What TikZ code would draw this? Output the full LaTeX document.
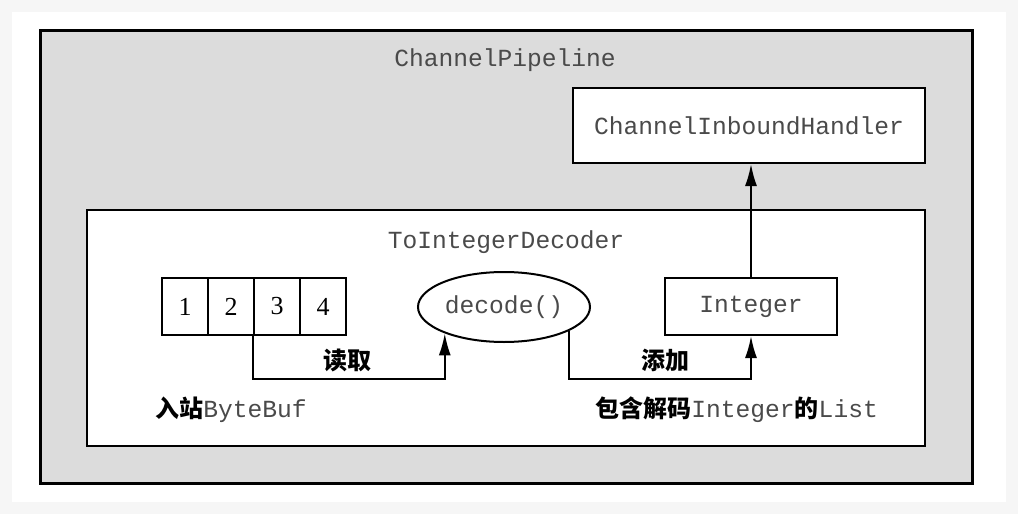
\documentclass[tikz,border=0pt]{standalone}
\usepackage{fontspec}
\setmainfont{Liberation Serif}
\setmonofont{Liberation Mono}
\newfontfamily\cjk{Noto Sans CJK SC}
\usetikzlibrary{arrows.meta,positioning,shapes.geometric}
\definecolor{pipegray}{HTML}{DCDCDC}
\definecolor{pagegray}{HTML}{F6F6F6}
\definecolor{codegray}{HTML}{4A4A4A}

\begin{document}
\begin{tikzpicture}[x=0.5pt,y=-0.5pt,>={Latex[length=11pt,width=6pt]},
  every node/.style={inner sep=0pt},
  code/.style={font=\ttfamily\fontsize{12.3}{14}\selectfont,text=codegray},
  box/.style={draw,line width=1pt,fill=white,code},
  cell/.style={draw,line width=1pt,fill=white,minimum width=23pt,minimum height=28.5pt,font=\fontsize{13}{15}\selectfont},
  lbl/.style={font=\cjk\bfseries\fontsize{12}{14}\selectfont},
  flow/.style={->,line width=1pt}]

\useasboundingbox (0,0) rectangle (1018,514);

% page card
\fill[pagegray] (0,0) rectangle (1018,514);
\fill[white] (12,12) rectangle (1006,502);

% pipeline and decoder frames
\draw[line width=1.5pt,fill=pipegray] (40,30) rectangle (972,483);
\draw[line width=1pt,fill=white] (87,210) rectangle (925,446);

% titles
\node[code] (pipe) at (505,60) {ChannelPipeline};
\node[code] (dectitle) at (506,242) {ToIntegerDecoder};

% handler
\node[box,minimum width=176pt,minimum height=37.5pt] (cih) at (749,125.5) {ChannelInboundHandler};

% inbound bytes
\foreach \i in {1,...,4}{
  \node[cell] (b\i) at ({185+46*(\i-1)},306.5) {\i};
}

% decode and result
\node[ellipse,draw,line width=1pt,fill=white,minimum width=86pt,minimum height=35pt,code] (dec) at (504,307) {decode()};
\node[box,minimum width=86pt,minimum height=28.5pt] (int) at (751,306.5) {Integer};

% flows
\draw[flow] (b3.south west) -- ++(0,43) coordinate (rd) -| (dec.204);
\draw[flow] (dec.-20) -- (dec.-20 |- rd) -| (int.south);
\draw[flow] (int.north) -- (int.north |- cih.south);

% labels
\node[lbl] (read) at (347,360) {读取};
\node[lbl] (add) at (665,360) {添加};
\node[anchor=west,lbl] (inbuf) at (155,410) {入站{\ttfamily\fontsize{12.3}{14}\selectfont\mdseries\color{codegray}ByteBuf}};
\node[anchor=west,lbl] (outlist) at (595,410) {包含解码{\ttfamily\fontsize{12.3}{14}\selectfont\mdseries\color{codegray}Integer}的{\ttfamily\fontsize{12.3}{14}\selectfont\mdseries\color{codegray}List}};

\end{tikzpicture}
\end{document}
